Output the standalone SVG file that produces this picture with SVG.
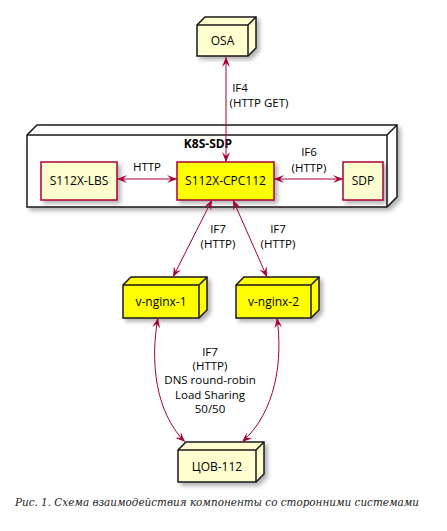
<svg xmlns="http://www.w3.org/2000/svg" width="447" height="531" viewBox="0 0 447 531">
<style>
.t{font-family:"Open Sans","Noto Sans","DejaVu Sans",sans-serif;font-size:12px;fill:#000;text-anchor:middle}
.b{font-weight:bold}
.lbl{font-family:"Open Sans","Noto Sans","DejaVu Sans",sans-serif;font-size:11.5px;fill:#000;text-anchor:middle}
.nd{fill:#FEFECE;stroke:#181818;stroke-width:1.5}
.ndy{fill:#FFFF00;stroke:#181818;stroke-width:1.5}
.edge{fill:none;stroke:#181818;stroke-width:1.5}
.rc{fill:#FEFECE;stroke:#A80036;stroke-width:1.5}
.rcy{fill:#FFFF00;stroke:#A80036;stroke-width:1.5}
.ln{fill:none;stroke:#A80036;stroke-width:1;marker-start:url(#ah);marker-end:url(#ah)}
.cap{font-family:"DejaVu Serif","Liberation Serif",serif;font-style:italic;font-size:10.4px;fill:#222}
</style>
<defs>
<filter id="sh" x="-20%" y="-20%" width="140%" height="150%">
<feDropShadow dx="3" dy="3" stdDeviation="2" flood-color="#000" flood-opacity="0.3"/>
</filter>
<marker id="ah" markerUnits="userSpaceOnUse" viewBox="0 0 10 8" refX="10" refY="4" markerWidth="10" markerHeight="8" orient="auto-start-reverse">
<path d="M0,0 L10,4 L0,8 L4,4 Z" fill="#A80036"/>
</marker>
</defs>
<rect width="447" height="531" fill="#fff"/>

<g id="OSA">
<path class="nd" filter="url(#sh)" d="M197,25 L205,17 L256,17 L256,48 L248,56 L197,56 Z"/>
<path class="edge" d="M197,25 L248,25 L256,17 M248,25 L248,56"/>
<text class="t" x="222.5" y="45">OSA</text>
</g>

<g id="K8S-SDP">
<path class="nd" style="fill:#fff" filter="url(#sh)" d="M27,135 L37,125 L397,125 L397,197 L387,207 L27,207 Z"/>
<path class="edge" d="M27,135 L387,135 L397,125 M387,135 L387,207"/>
<text class="t b" x="208" y="148">K8S-SDP</text>
</g>

<g id="S112X-LBS">
<rect class="rc" filter="url(#sh)" x="41" y="162" width="76" height="38"/>
<text class="t" x="79" y="185">S112X-LBS</text>
</g>

<g id="S112X-CPC112">
<rect class="rcy" filter="url(#sh)" x="177" y="162" width="97" height="38"/>
<text class="t" x="225.5" y="185">S112X-CPC112</text>
</g>

<g id="SDP">
<rect class="rc" filter="url(#sh)" x="343" y="162" width="40" height="38"/>
<text class="t" x="363" y="185">SDP</text>
</g>

<g id="v-nginx-1">
<path class="ndy" filter="url(#sh)" d="M123,285 L131,277 L207,277 L207,310 L199,318 L123,318 Z"/>
<path class="edge" d="M123,285 L199,285 L207,277 M199,285 L199,318"/>
<text class="t" x="161" y="306">v-nginx-1</text>
</g>

<g id="v-nginx-2">
<path class="ndy" filter="url(#sh)" d="M236,285 L244,277 L319,277 L319,310 L311,318 L236,318 Z"/>
<path class="edge" d="M236,285 L311,285 L319,277 M311,285 L311,318"/>
<text class="t" x="273.5" y="306">v-nginx-2</text>
</g>

<g id="COV-112">
<path class="nd" filter="url(#sh)" d="M178,450 L186,442 L264,442 L264,474 L256,482 L178,482 Z"/>
<path class="edge" d="M178,450 L256,450 L264,442 M256,450 L256,482"/>
<text class="t" x="217" y="471">ЦОВ-112</text>
</g>

<g id="connectors">
<path class="ln" d="M226,57 L226,162"/>
<path class="ln" d="M117,179 L177,179"/>
<path class="ln" d="M274,179 L343,179"/>
<path class="ln" d="M212,200 L173,277"/>
<path class="ln" d="M233,200 L267,277"/>
<path class="ln" d="M158,318 C150,360 155,412 185,442"/>
<path class="ln" d="M277,318 C283,360 276,412 242,442"/>
<text class="lbl" x="240" y="92">IF4</text>
<text class="lbl" x="259" y="107">(HTTP GET)</text>
<text class="lbl" x="147" y="171">HTTP</text>
<text class="lbl" x="309" y="156">IF6</text>
<text class="lbl" x="309" y="172">(HTTP)</text>
<text class="lbl" x="218" y="233">IF7</text>
<text class="lbl" x="218" y="248">(HTTP)</text>
<text class="lbl" x="278" y="233">IF7</text>
<text class="lbl" x="278" y="248">(HTTP)</text>
<text class="lbl" x="210" y="356">IF7</text>
<text class="lbl" x="210" y="370">(HTTP)</text>
<text class="lbl" x="210" y="384">DNS round-robin</text>
<text class="lbl" x="210" y="399">Load Sharing</text>
<text class="lbl" x="210" y="413">50/50</text>
</g>

<text class="cap" x="15" y="506">Рис. 1. Схема взаимодействия компоненты со сторонними системами</text>
</svg>
